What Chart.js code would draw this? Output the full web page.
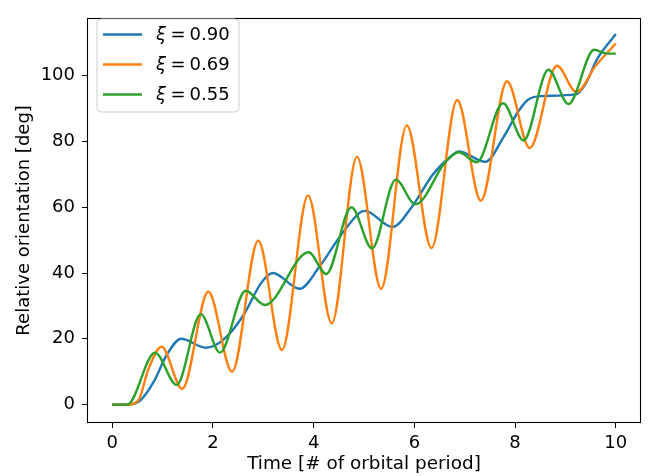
<!DOCTYPE html>
<html><head><meta charset="utf-8">
<script src="https://cdn.jsdelivr.net/npm/chart.js@4/dist/chart.umd.min.js"></script>
<style>html,body{margin:0;padding:0;background:#fff}canvas{display:block}</style>
</head><body>
<canvas id="c" width="651" height="476"></canvas>
<script>
// ---- data ----
const seriesLabels = ['0.90', '0.69', '0.55'];
const seriesColors = ['#1f77b4', '#ff7f0e', '#2ca02c'];

const tBlue = [0, 0.3, 0.56, 0.82, 1.09, 1.37, 1.86, 2.2, 2.6, 2.96, 3.19, 3.72, 4.11, 4.51, 4.91, 5.02, 5.56, 5.96, 6.36, 6.75, 6.88, 7.41, 7.77, 8.05, 8.25, 8.5, 9.2, 9.4, 9.62, 10];
const vBlue = [0, 0, 1.3, 6.8, 15.3, 20.0, 17.3, 19.6, 27.0, 37.0, 40.0, 35.2, 41.8, 50.8, 58.3, 58.9, 54.0, 60.3, 69.8, 75.8, 77.0, 73.8, 81.3, 88.8, 92.6, 93.8, 94.3, 97.5, 104.8, 112.7];

const tOrange = [0, 0.3, 0.52, 0.72, 0.98, 1.39, 1.91, 2.38, 2.90, 3.37, 3.89, 4.36, 4.86, 5.34, 5.85, 6.34, 6.85, 7.32, 7.84, 8.29, 8.83, 9.22, 9.6, 10];
const vOrange = [0, 0, 1.3, 10.8, 17.6, 4.8, 34.3, 10.0, 49.8, 16.6, 63.6, 24.7, 75.3, 35.2, 84.9, 47.6, 92.6, 62.0, 98.3, 78.0, 103.0, 95.0, 103.0, 109.8];

const tGreen = [0, 0.3, 0.85, 1.28, 1.76, 2.14, 2.65, 3.03, 3.90, 4.25, 4.75, 5.16, 5.63, 6.02, 6.62, 6.88, 7.24, 7.76, 8.17, 8.66, 9.06, 9.57, 9.8, 10];
const vGreen = [0, 0, 15.8, 6.0, 27.5, 15.8, 34.6, 30.3, 46.3, 39.7, 60.0, 47.5, 68.4, 60.9, 73.8, 76.7, 73.7, 91.6, 80.3, 101.8, 91.4, 107.9, 106.8, 106.7];

const xTicks = [0, 2, 4, 6, 8, 10];
const yTicks = [0, 20, 40, 60, 80, 100];
const xTitle = 'Time [# of orbital period]';
const yTitle = 'Relative orientation [deg]';

const FONT = 'DejaVu Sans';
const FS = 18;

function pts(t, v) { return t.map((x, i) => ({ x: x, y: v[i] })); }

const seriesT = [tBlue, tOrange, tGreen];
const seriesV = [vBlue, vOrange, vGreen];

const datasets = seriesLabels.map((lab, i) => ({
  label: '\u03be = ' + lab,
  data: pts(seriesT[i], seriesV[i]),
  borderColor: seriesColors[i],
  backgroundColor: seriesColors[i],
  borderWidth: 2.4,
  pointRadius: 0,
  fill: false,
  cubicInterpolationMode: 'monotone',
  order: 3 - i
}));

const framePlugin = {
  id: 'frame',
  afterDraw(chart) {
    const ctx = chart.ctx, a = chart.chartArea;
    ctx.save();
    ctx.strokeStyle = '#000';
    ctx.lineWidth = 1.1;
    ctx.strokeRect(Math.round(a.left) + 0.5, Math.round(a.top) + 0.5,
      Math.round(a.right - a.left) - 1, Math.round(a.bottom - a.top) - 1);
    // legend
    const bx = 97, by = 19, bw = 142, bh = 93, r = 4;
    ctx.beginPath();
    ctx.moveTo(bx + r, by);
    ctx.arcTo(bx + bw, by, bx + bw, by + bh, r);
    ctx.arcTo(bx + bw, by + bh, bx, by + bh, r);
    ctx.arcTo(bx, by + bh, bx, by, r);
    ctx.arcTo(bx, by, bx + bw, by, r);
    ctx.closePath();
    ctx.fillStyle = 'rgba(255,255,255,0.8)';
    ctx.fill();
    ctx.strokeStyle = '#cccccc';
    ctx.lineWidth = 1;
    ctx.stroke();
    seriesLabels.forEach((lab, i) => {
      const cy = 34.5 + i * 30;
      ctx.beginPath();
      ctx.moveTo(103, cy);
      ctx.lineTo(142, cy);
      ctx.strokeStyle = seriesColors[i];
      ctx.lineWidth = 2.4;
      ctx.stroke();
      ctx.fillStyle = '#000';
      ctx.textBaseline = 'middle';
      ctx.textAlign = 'left';
      ctx.font = 'italic ' + FS + 'px "' + FONT + '"';
      ctx.fillText('\u03be', 156, cy + 1);
      ctx.font = FS + 'px "' + FONT + '"';
      ctx.fillText('=', 170.5, cy + 1);
      ctx.fillText(lab, 189.5, cy + 1);
    });
    ctx.restore();
  }
};

new Chart(document.getElementById('c'), {
  type: 'line',
  data: { datasets: datasets },
  options: {
    responsive: false,
    animation: false,
    devicePixelRatio: 1,
    layout: { padding: { top: 10, right: 10, left: 0, bottom: 0 } },
    plugins: { legend: { display: false }, tooltip: { enabled: false } },
    scales: {
      x: {
        type: 'linear', min: -0.5, max: 10.5,
        afterBuildTicks: s => { s.ticks = xTicks.map(v => ({ value: v })); },
        afterFit: s => { s.height = 53; },
        grid: { drawOnChartArea: false, drawTicks: true, tickLength: 5, color: '#000', lineWidth: 1 },
        border: { display: false },
        ticks: { color: '#000', font: { family: FONT, size: FS }, padding: 5, maxRotation: 0, callback: v => String(v) },
        title: { display: true, text: xTitle, color: '#000', font: { family: FONT, size: 18.4 }, padding: { top: 0, bottom: 1 } }
      },
      y: {
        type: 'linear', min: -5.6, max: 117.6,
        afterBuildTicks: s => { s.ticks = yTicks.map(v => ({ value: v })); },
        afterFit: s => { s.width = 87; },
        grid: { drawOnChartArea: false, drawTicks: true, tickLength: 5, color: '#000', lineWidth: 1 },
        border: { display: false },
        ticks: { color: '#000', font: { family: FONT, size: FS }, padding: 7, callback: v => String(v) },
        title: { display: true, text: yTitle, color: '#000', font: { family: FONT, size: FS }, padding: { top: 14, bottom: 0 } }
      }
    }
  },
  plugins: [framePlugin]
});
</script>
</body></html>
